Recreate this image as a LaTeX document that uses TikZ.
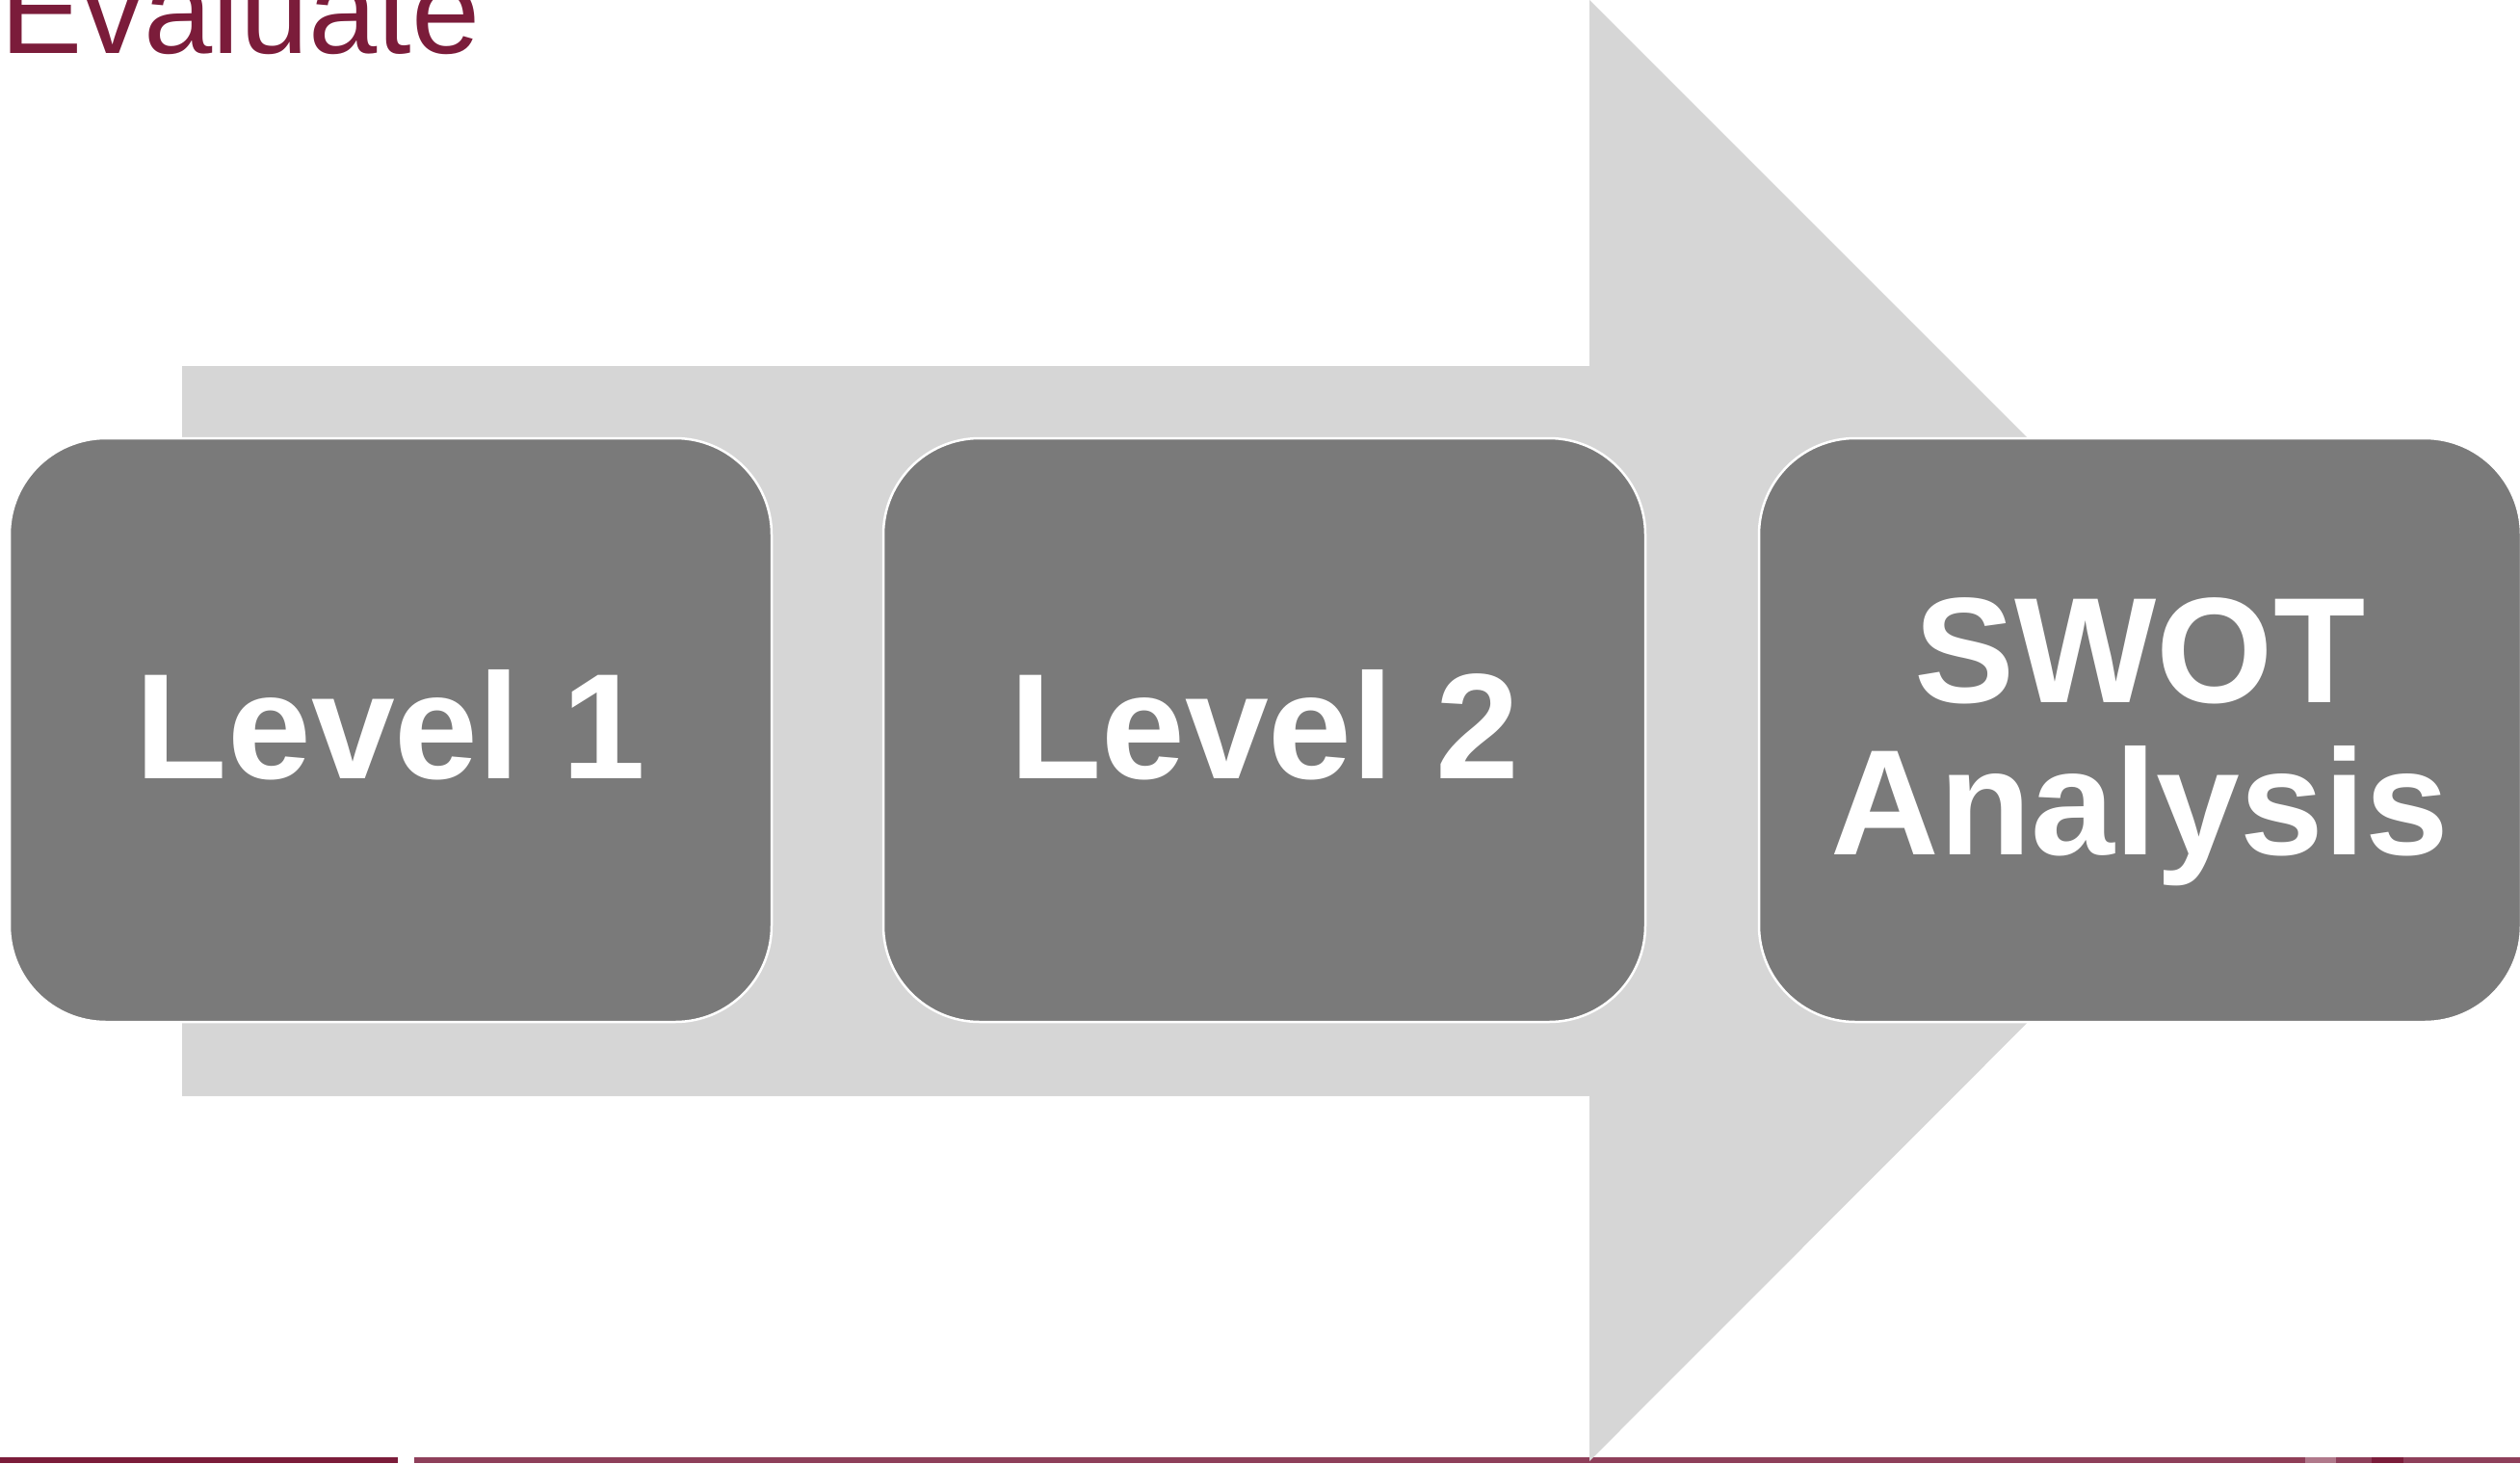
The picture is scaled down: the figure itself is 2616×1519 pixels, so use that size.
\documentclass[tikz,border=0pt]{standalone}
\usepackage{fontspec}
\setmainfont{Liberation Sans}
\definecolor{maroon}{HTML}{7B1C3A}
\definecolor{maroonlight}{HTML}{8E3F5A}
\definecolor{arrowgray}{HTML}{D6D6D6}
\definecolor{boxgray}{HTML}{7A7A7A}
\begin{document}
\begin{tikzpicture}[x=1pt,y=-1pt,
  levelbox/.style={rectangle, rounded corners=100pt, fill=boxgray, draw=white, line width=2.5pt,
    minimum width=791pt, minimum height=606pt, inner sep=0pt},
  boxtext/.style={inner sep=0pt, text=white, align=center,
    font=\fontsize{156}{158}\selectfont\bfseries}]
\useasboundingbox (0,0) rectangle (2616,1519);
% title
\node[anchor=base west, inner sep=0pt, text=maroon, font=\fontsize{128}{130}\selectfont] (title) at (0,55) {Evaluate};
% bottom lines
\fill[maroon] (0,1513) rectangle (413,1519);
\fill[maroonlight] (430,1513) rectangle (2616,1519);
\fill[maroon!85!white] (2358,1513) rectangle (2391,1519);
\fill[maroonlight!70!white] (2393,1513) rectangle (2425,1519);
\fill[maroon] (2462,1513) rectangle (2495,1519);
% big arrow
\fill[arrowgray] (189,380) -- (1650,380) -- (1650,0) -- (2408,758) -- (1650,1517) -- (1650,1138) -- (189,1138) -- cycle;
% boxes
\node[levelbox] (l1) at (405.5,758) {};
\node[levelbox] (l2) at (1312.5,758) {};
\node[levelbox] (swot) at (2221.5,758) {};
\node[boxtext, yshift=5pt] (l1text) at (l1.center) {Level 1};
\node[boxtext, yshift=5pt] (l2text) at (l2.center) {Level 2};
\node[boxtext, yshift=-12pt] (swottext) at (swot.center) {SWOT\\Analysis};
\end{tikzpicture}
\end{document}
